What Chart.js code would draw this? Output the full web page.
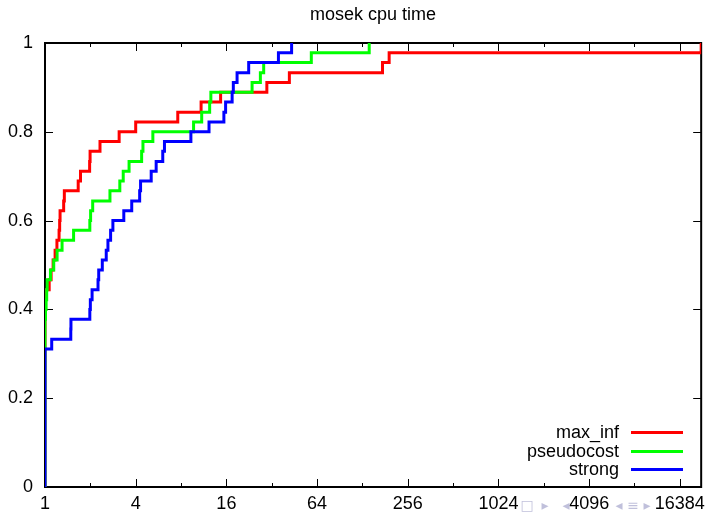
<!DOCTYPE html>
<html><head><meta charset="utf-8">
<script src="https://cdn.jsdelivr.net/npm/chart.js@4/dist/chart.umd.min.js"></script>
<style>html,body{margin:0;padding:0;background:#fff;overflow:hidden}#wrap{width:711px;height:513px;position:relative}</style>
</head><body><div id="wrap"><canvas id="c" width="711" height="513"></canvas></div>
<script>
// ---- data (performance profile, 45 problems) ----
const chartTitle = "mosek cpu time";
const seriesNames = ["max_inf", "pseudocost", "strong"];
const seriesColors = ["#ff0000", "#00ff00", "#0000ff"];

const xTickValues = [1, 2, 4, 8, 16, 32, 64, 128, 256, 512, 1024, 2048, 4096, 8192, 16384];
const xTickLabels = ["1", "", "4", "", "16", "", "64", "", "256", "", "1024", "", "4096", "", "16384"];
const yTickValues = [0, 0.2, 0.4, 0.6, 0.8, 1];
const yTickLabels = ["0", "0.2", "0.4", "0.6", "0.8", "1"];
const xMin = 1;
const xMax = 22700;

const maxInfRatio = [1, 1, 1.066, 1.098, 1.132, 1.167, 1.2, 1.24, 1.251, 1.259, 1.33, 1.344, 1.661, 1.72, 1.978, 1.992, 2.318, 3.106, 4.0, 7.61, 10.87, 14.65, 29.7, 41.9, 174, 192.6, 22700];
const maxInfFrac  = [0, 0.444, 0.467, 0.489, 0.511, 0.533, 0.556, 0.578, 0.6, 0.622, 0.644, 0.667, 0.689, 0.711, 0.733, 0.756, 0.778, 0.8, 0.822, 0.844, 0.867, 0.889, 0.911, 0.933, 0.956, 0.978, 1];

const pseudoRatio = [1, 1, 1.008, 1.017, 1.026, 1.034, 1.087, 1.143, 1.203, 1.298, 1.548, 1.984, 2.008, 2.073, 2.699, 3.138, 3.306, 3.615, 4.38, 4.47, 5.2, 9.69, 10.97, 12.39, 12.62, 23.7, 26.9, 28.3, 58.6, 142];
const pseudoFrac  = [0, 0.378, 0.4, 0.422, 0.444, 0.467, 0.489, 0.511, 0.533, 0.556, 0.578, 0.6, 0.622, 0.644, 0.667, 0.689, 0.711, 0.733, 0.756, 0.778, 0.8, 0.822, 0.844, 0.867, 0.889, 0.911, 0.933, 0.956, 0.978, 1];

const strongRatio = [1, 1, 1.108, 1.483, 1.487, 1.984, 2.0, 2.054, 2.249, 2.273, 2.401, 2.55, 2.617, 2.726, 2.823, 3.335, 3.765, 4.25, 4.31, 5.07, 5.47, 6.05, 6.21, 9.3, 12.27, 15.4, 15.81, 17.47, 17.79, 18.84, 22.5, 35.45, 43.36];
const strongFrac  = [0, 0.311, 0.333, 0.356, 0.378, 0.4, 0.422, 0.444, 0.467, 0.489, 0.511, 0.533, 0.556, 0.578, 0.6, 0.622, 0.644, 0.667, 0.689, 0.711, 0.733, 0.756, 0.778, 0.8, 0.822, 0.844, 0.867, 0.889, 0.911, 0.933, 0.956, 0.978, 1];

const navSymbols = ["\u25A1", "\u25B8", "\u25C2", "\u25C2", "\u2261", "\u25B8"];
// -------------------------------------------------------------------------

const FONT = '"Liberation Sans", Arial, Helvetica, sans-serif';
const toPts = (xs, ys) => xs.map((v, i) => ({x: v, y: ys[i]}));
const allSeries = [[maxInfRatio, maxInfFrac], [pseudoRatio, pseudoFrac], [strongRatio, strongFrac]];

const frame = {
  id: 'frame',
  beforeDatasetsDraw(chart) {
    const {ctx, chartArea: a, scales: {x, y}} = chart;
    ctx.save();
    ctx.strokeStyle = '#000';
    ctx.lineWidth = 1;
    ctx.beginPath();
    xTickValues.forEach((v, i) => {
      const px = Math.round(x.getPixelForValue(v)) + 0.5;
      const len = xTickLabels[i] ? 8 : 4;
      ctx.moveTo(px, a.bottom); ctx.lineTo(px, a.bottom - len);
      ctx.moveTo(px, a.top); ctx.lineTo(px, a.top + len);
    });
    yTickValues.forEach(v => {
      const py = Math.round(y.getPixelForValue(v)) + 0.5;
      ctx.moveTo(a.left, py); ctx.lineTo(a.left + 8, py);
      ctx.moveTo(a.right, py); ctx.lineTo(a.right - 8, py);
    });
    ctx.stroke();
    ctx.lineWidth = 2;
    ctx.strokeRect(a.left, a.top, a.right - a.left, a.bottom - a.top);
    ctx.restore();
  },
  afterDraw(chart) {
    const {ctx, chartArea: a} = chart;
    ctx.save();
    // title
    ctx.fillStyle = '#000';
    ctx.font = '18px ' + FONT;
    ctx.textAlign = 'center';
    ctx.textBaseline = 'middle';
    ctx.fillText(chartTitle, (a.left + a.right) / 2, 15);
    // legend
    const rows = [432, 451, 469];
    ctx.textAlign = 'right';
    seriesNames.forEach((n, i) => {
      ctx.fillStyle = '#000';
      ctx.fillText(n, 619, rows[i] + 1);
      ctx.strokeStyle = seriesColors[i];
      ctx.lineWidth = 3;
      ctx.beginPath();
      ctx.moveTo(631, rows[i] + 0.5);
      ctx.lineTo(683, rows[i] + 0.5);
      ctx.stroke();
    });
    // beamer navigation symbols
    ctx.fillStyle = 'rgba(150,150,195,0.6)';
    ctx.font = '14px "DejaVu Sans", sans-serif';
    ctx.textAlign = 'center';
    const navX = [527, 545, 566, 619, 633, 647];
    navSymbols.forEach((s, i) => ctx.fillText(s, navX[i], 506));
    ctx.restore();
  }
};

new Chart(document.getElementById('c'), {
  type: 'scatter',
  data: {
    datasets: allSeries.map((s, i) => ({
      label: seriesNames[i],
      data: toPts(s[0], s[1]),
      showLine: true,
      stepped: 'before',
      borderColor: seriesColors[i],
      backgroundColor: seriesColors[i],
      borderWidth: 3,
      borderJoinStyle: 'miter',
      borderCapStyle: 'butt',
      pointRadius: 0,
      pointHoverRadius: 0,
      fill: false,
      order: 3 - i
    }))
  },
  options: {
    responsive: false,
    animation: false,
    devicePixelRatio: 1,
    events: [],
    layout: {padding: {top: 43, right: 4, left: 0, bottom: 0}},
    plugins: {legend: {display: false}, tooltip: {enabled: false}, title: {display: false}},
    scales: {
      x: {
        type: 'logarithmic',
        min: xMin, max: xMax,
        afterBuildTicks: s => { s.ticks = xTickValues.map(v => ({value: v})); },
        afterFit: s => { s.height = 26; },
        grid: {display: false, drawTicks: false},
        border: {display: false},
        ticks: {
          autoSkip: false, maxRotation: 0, minRotation: 0, padding: 6,
          color: '#000', font: {family: FONT, size: 18},
          callback: (v, i) => xTickLabels[i]
        }
      },
      y: {
        type: 'linear',
        min: 0, max: 1,
        afterBuildTicks: s => { s.ticks = yTickValues.map(v => ({value: v})); },
        afterFit: s => { s.width = 45; },
        grid: {display: false, drawTicks: false},
        border: {display: false},
        ticks: {
          padding: 12, color: '#000', font: {family: FONT, size: 18},
          callback: (v, i) => yTickLabels[i]
        }
      }
    }
  },
  plugins: [frame]
});
</script></body></html>
